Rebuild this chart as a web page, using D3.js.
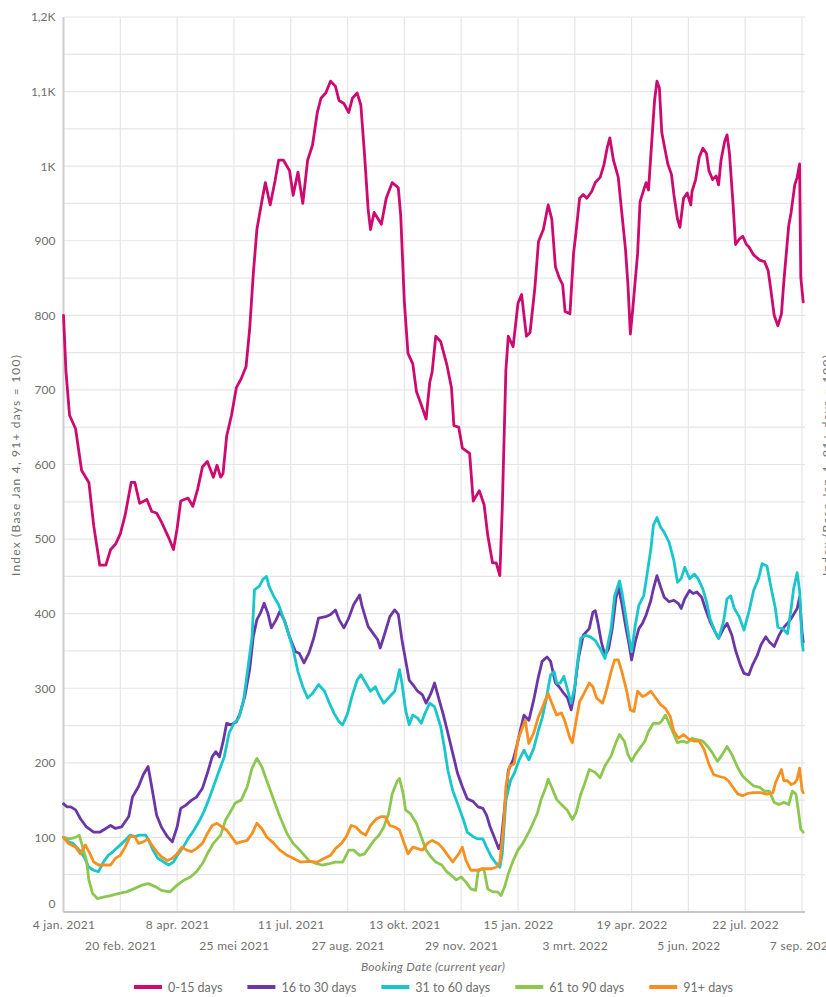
<!DOCTYPE html>
<html><head><meta charset="utf-8">
<script src="https://cdn.jsdelivr.net/npm/d3@7/dist/d3.min.js"></script>
<style>
body{margin:0;background:#fff}
text{font-family:Lato,"Open Sans",sans-serif}
</style>
</head><body>
<svg id="chart" width="826" height="997"></svg>
<script>
// ---------------- DATA ----------------
const startDate = "2021-01-04";           // day 0 of the series
const tickDays = [0,47,94,141,188,235,282,329,376,423,470,517,564,611];
const tickLabels = ["4 jan. 2021","20 feb. 2021","8 apr. 2021","25 mei 2021","11 jul. 2021","27 aug. 2021","13 okt. 2021","29 nov. 2021","15 jan. 2022","3 mrt. 2022","19 apr. 2022","5 jun. 2022","22 jul. 2022","7 sep. 2022"];
const yTicks = [0,100,200,300,400,500,600,700,800,900,1000,1100,1200];
const seriesNames = ["0-15 days","16 to 30 days","31 to 60 days","61 to 90 days","91+ days"];

// [day offset from startDate, index value]
const days0to15 = [[0,800],[2,726],[5,666],[10,648],[15,592],[21,576],[25,518],[30,465],[35,465],[39,486],[43,493],[47,507],[51,532],[56,576],[59,576],[63,548],[69,553],[73,537],[77,535],[81,523],[87,502],[91,486],[94,514],[97,551],[103,555],[107,544],[111,567],[115,597],[119,604],[124,583],[127,599],[130,583],[132,588],[135,638],[139,666],[143,703],[147,715],[151,731],[154,781],[157,855],[160,915],[164,952],[167,978],[171,948],[175,980],[178,1008],[182,1008],[187,994],[190,961],[194,992],[198,950],[202,1008],[206,1028],[210,1072],[213,1091],[217,1098],[221,1114],[225,1107],[228,1088],[232,1084],[236,1072],[239,1091],[243,1098],[246,1082],[249,1017],[252,943],[254,915],[257,938],[263,922],[267,957],[272,978],[277,971],[279,934],[282,818],[285,749],[289,735],[292,698],[296,680],[300,661],[303,710],[305,724],[308,772],[312,765],[317,735],[321,703],[323,652],[327,650],[330,622],[336,615],[339,551],[344,565],[348,546],[351,505],[355,468],[358,468],[361,451],[363,541],[366,726],[368,772],[372,758],[376,816],[379,828],[383,772],[386,777],[390,837],[393,899],[397,915],[401,948],[404,929],[407,865],[410,851],[413,841],[415,805],[419,802],[422,883],[424,911],[427,957],[430,962],[433,957],[437,966],[440,978],[444,985],[447,1001],[450,1026],[452,1038],[455,1008],[459,985],[461,952],[465,888],[467,841],[469,775],[471,809],[475,883],[477,952],[480,968],[482,978],[484,968],[487,1040],[489,1088],[491,1114],[493,1105],[495,1045],[497,1028],[500,1003],[503,989],[505,962],[508,929],[510,918],[513,957],[516,964],[519,948],[520,966],[523,982],[526,1012],[529,1024],[532,1017],[534,994],[537,982],[540,987],[542,975],[544,1008],[547,1033],[549,1042],[551,1017],[554,948],[556,895],[559,902],[562,906],[565,895],[567,892],[571,881],[576,874],[580,872],[583,860],[585,837],[588,800],[591,786],[594,802],[596,846],[600,920],[602,938],[605,975],[607,985],[609,1003],[610,851],[612,818]];

const days16to30 = [[0,145],[3,141],[6,141],[10,137],[14,125],[19,114],[25,107],[30,107],[35,112],[39,116],[43,112],[48,114],[54,128],[57,154],[62,168],[66,184],[70,195],[73,168],[77,130],[81,114],[86,101],[90,94],[94,114],[97,139],[101,143],[106,150],[110,154],[115,166],[119,186],[123,208],[126,215],[129,208],[132,228],[135,253],[139,251],[143,255],[146,266],[150,289],[154,325],[157,369],[160,392],[163,401],[166,414],[169,401],[172,381],[176,392],[179,403],[183,390],[187,369],[192,349],[195,347],[199,334],[203,347],[207,367],[211,394],[217,396],[221,399],[225,405],[228,392],[232,381],[236,394],[240,412],[245,425],[247,410],[252,383],[256,374],[260,365],[262,354],[265,369],[270,396],[274,405],[277,399],[280,365],[283,338],[286,311],[289,305],[293,296],[297,291],[300,280],[304,293],[307,307],[310,289],[314,266],[318,240],[322,213],[326,186],[330,168],[334,152],[339,148],[343,141],[347,139],[350,130],[353,114],[357,98],[360,85],[362,92],[365,141],[368,190],[372,204],[375,222],[378,244],[381,264],[385,257],[389,284],[393,316],[396,336],[400,342],[403,336],[407,307],[410,302],[414,293],[417,287],[420,271],[422,287],[426,340],[430,371],[435,380],[438,402],[440,404],[442,389],[445,362],[448,344],[451,353],[454,380],[457,420],[459,436],[462,413],[465,384],[468,358],[470,338],[473,362],[476,380],[479,387],[482,398],[486,418],[488,433],[491,451],[494,436],[497,422],[501,416],[505,418],[509,413],[511,407],[514,420],[518,431],[521,427],[524,429],[528,422],[531,407],[535,389],[539,376],[542,367],[546,380],[549,387],[553,371],[556,351],[560,331],[563,320],[567,318],[570,331],[574,344],[577,358],[581,369],[584,362],[588,356],[592,371],[595,380],[600,389],[603,396],[607,407],[609,422],[611,376],[612,362]];

const days31to60 = [[0,100],[4,94],[8,92],[13,83],[17,74],[21,60],[25,56],[29,54],[33,67],[37,76],[41,81],[47,90],[51,96],[55,103],[59,101],[63,103],[68,103],[70,98],[74,83],[78,72],[83,67],[87,63],[91,67],[95,78],[99,87],[103,98],[108,110],[112,121],[116,134],[120,150],[124,168],[128,186],[133,208],[137,240],[141,253],[145,260],[149,284],[152,320],[156,369],[158,432],[162,437],[165,446],[168,450],[170,437],[174,423],[178,412],[182,394],[186,374],[190,352],[194,322],[198,302],[202,287],[206,293],[211,305],[216,296],[220,280],[224,266],[228,255],[231,251],[235,266],[239,291],[243,311],[246,318],[250,307],[254,296],[258,302],[261,291],[265,280],[270,289],[274,296],[278,325],[280,307],[283,271],[286,251],[289,264],[293,260],[296,253],[299,266],[303,280],[307,275],[312,249],[315,222],[318,190],[322,163],[327,141],[331,123],[334,107],[339,101],[343,98],[347,98],[350,87],[354,74],[358,65],[361,60],[363,78],[366,150],[370,177],[373,186],[377,204],[381,217],[385,204],[389,219],[393,244],[396,260],[399,282],[403,318],[406,322],[408,307],[411,307],[414,316],[417,298],[420,280],[423,302],[426,344],[428,367],[432,371],[436,369],[440,364],[444,353],[448,340],[453,380],[456,424],[460,444],[462,429],[465,398],[468,367],[470,349],[473,384],[476,411],[480,424],[482,444],[486,487],[488,518],[491,529],[494,516],[497,509],[501,496],[505,471],[508,442],[511,447],[514,462],[518,447],[522,453],[525,447],[529,433],[532,416],[535,393],[539,376],[542,367],[546,389],[549,420],[552,424],[555,407],[559,396],[563,378],[567,402],[571,431],[575,447],[578,467],[582,464],[585,438],[589,407],[591,382],[595,380],[599,373],[602,407],[604,433],[607,455],[609,431],[611,362],[612,351]];

const days61to90 = [[0,100],[5,98],[10,100],[13,103],[15,92],[19,69],[21,43],[24,25],[28,18],[33,20],[39,22],[46,25],[52,27],[58,31],[65,36],[70,38],[76,34],[81,29],[88,27],[94,36],[100,43],[105,47],[110,54],[115,65],[119,78],[124,92],[130,103],[134,123],[138,134],[142,146],[147,150],[152,168],[156,193],[160,206],[164,195],[168,177],[174,150],[179,128],[185,105],[190,92],[196,82],[203,69],[209,65],[214,63],[220,65],[225,67],[231,67],[236,83],[240,83],[245,76],[249,78],[253,87],[257,96],[261,103],[265,114],[269,132],[272,159],[276,175],[278,179],[281,159],[283,137],[287,132],[292,119],[296,101],[300,83],[304,74],[308,67],[313,63],[317,54],[321,49],[325,43],[329,47],[333,40],[337,31],[341,29],[343,54],[346,58],[348,56],[351,31],[355,27],[359,27],[362,22],[365,34],[368,51],[372,69],[376,83],[380,92],[385,107],[387,114],[392,132],[395,150],[399,167],[401,178],[404,167],[408,151],[412,144],[417,136],[421,124],[424,133],[428,158],[432,176],[435,191],[440,187],[444,180],[448,196],[453,209],[457,227],[460,238],[464,229],[467,211],[470,202],[473,211],[477,220],[481,229],[484,242],[488,253],[493,253],[495,256],[498,264],[501,253],[505,238],[508,227],[512,229],[516,227],[520,233],[524,231],[529,229],[533,222],[537,213],[541,202],[545,211],[549,222],[553,211],[558,193],[562,182],[566,176],[571,169],[576,167],[580,162],[584,162],[588,147],[592,144],[596,147],[600,144],[603,162],[606,158],[608,136],[610,111],[612,107]];

const days91plus = [[0,100],[4,92],[10,87],[14,78],[18,90],[22,78],[25,67],[29,63],[33,63],[39,63],[43,72],[47,76],[51,87],[55,101],[59,101],[62,92],[66,94],[70,98],[73,90],[77,81],[81,74],[86,69],[90,72],[94,78],[98,87],[102,83],[106,81],[110,85],[115,92],[119,105],[123,116],[127,119],[131,114],[135,110],[139,101],[143,92],[147,94],[152,96],[156,105],[160,119],[164,112],[168,101],[174,92],[179,83],[185,76],[190,72],[196,67],[203,68],[210,67],[216,72],[221,76],[225,85],[230,92],[234,101],[238,116],[242,114],[246,107],[250,103],[254,116],[259,125],[263,128],[266,128],[270,116],[274,114],[278,110],[281,96],[285,78],[289,87],[293,85],[297,83],[301,92],[305,96],[310,92],[314,85],[318,76],[322,67],[327,78],[330,87],[333,69],[337,56],[342,56],[346,58],[350,58],[354,58],[358,60],[361,67],[364,114],[366,168],[369,195],[373,199],[376,231],[379,244],[382,257],[385,226],[389,240],[393,262],[396,273],[398,282],[401,293],[404,280],[408,264],[412,267],[415,255],[419,233],[421,227],[424,255],[427,282],[430,291],[435,307],[438,302],[441,287],[446,280],[449,296],[453,322],[456,338],[459,338],[462,322],[466,296],[469,271],[472,269],[475,296],[479,289],[482,291],[486,296],[490,287],[494,278],[498,273],[502,262],[505,242],[509,233],[513,238],[518,231],[522,229],[526,229],[530,218],[534,198],[538,184],[542,182],[547,180],[550,176],[554,167],[558,158],[562,156],[566,159],[571,160],[577,160],[582,158],[587,160],[589,173],[592,184],[594,191],[596,176],[599,176],[602,171],[605,173],[607,178],[609,193],[611,164],[612,160]];

const seriesData = [days0to15, days16to30, days31to60, days61to90, days91plus];
const seriesColors = ["#cc0a6f","#6b37a6","#19c6cc","#8cc850","#f7901e"];

// ---------------- CHART ----------------
const svg = d3.select("#chart");
const plot = {left:63.5, right:805, top:17, bottom:912};
const day0 = d3.timeParse("%Y-%m-%d")(startDate);
const toDate = d => d3.timeDay.offset(day0, d);

const x = d3.scaleTime().domain([toDate(0), toDate(611)]).range([plot.left, 802]);
const y = d3.scaleLinear().domain([0, 1200]).range([plot.bottom, plot.top]);

const gridColor = "#e6e6e6";
const textColor = "#707070";

// horizontal grid (every 50)
svg.append("g").selectAll("line").data(d3.range(0, 1201, 50)).join("line")
  .attr("x1", plot.left).attr("x2", plot.right)
  .attr("y1", d => y(d)).attr("y2", d => y(d))
  .attr("stroke", gridColor).attr("stroke-width", 1.2);

// vertical grid at ticks
svg.append("g").selectAll("line").data(tickDays).join("line")
  .attr("x1", d => x(toDate(d))).attr("x2", d => x(toDate(d)))
  .attr("y1", plot.top).attr("y2", plot.bottom)
  .attr("stroke", gridColor).attr("stroke-width", 1.2);

// y axis
const fmtY = v => v >= 1000 ? String(v/1000).replace(".", ",") + "K" : String(v);
const yAxis = svg.append("g").attr("transform", `translate(${plot.left},0)`)
  .call(d3.axisLeft(y).tickValues(yTicks).tickSize(0).tickPadding(8).tickFormat(fmtY));
yAxis.select(".domain").remove();
yAxis.selectAll("text").attr("fill", textColor).style("font-size", "12px")
  .attr("dy", d => d === 0 ? "-0.4em" : "0.32em");

// axis lines
svg.append("line").attr("x1", plot.left).attr("x2", plot.left)
  .attr("y1", plot.top).attr("y2", plot.bottom).attr("stroke", "#d0d0d0").attr("stroke-width", 2);
svg.append("line").attr("x1", plot.left).attr("x2", plot.right)
  .attr("y1", plot.bottom).attr("y2", plot.bottom).attr("stroke", "#b8b8b8").attr("stroke-width", 1.5);

// x axis
const xAxis = svg.append("g").attr("transform", `translate(0,${plot.bottom})`)
  .call(d3.axisBottom(x).tickValues(tickDays.map(toDate)).tickSize(0)
    .tickFormat((d, i) => tickLabels[i]));
xAxis.select(".domain").remove();
xAxis.selectAll("text").attr("fill", textColor).style("font-size", "12px")
  .style("letter-spacing", "0.3px")
  .attr("y", (d, i) => i % 2 === 0 ? 8 : 29).attr("dy", "0.71em");

// lines
const line = d3.line().x(d => x(toDate(d[0]))).y(d => y(d[1]));
svg.append("g").selectAll("path").data(seriesData).join("path")
  .attr("d", line).attr("fill", "none")
  .attr("stroke", (d, i) => seriesColors[i])
  .attr("stroke-width", 2.8).attr("stroke-linejoin", "round").attr("stroke-linecap", "round");

// axis titles
const yTitle = "Index (Base Jan 4, 91+ days = 100)";
svg.append("text").attr("transform", "translate(20,465) rotate(-90)")
  .attr("text-anchor", "middle").attr("fill", textColor).style("font-size", "12px")
  .style("letter-spacing", "1.2px").text(yTitle);
svg.append("text").attr("transform", "translate(831,465) rotate(-90)")
  .attr("text-anchor", "middle").attr("fill", textColor).style("font-size", "12px")
  .style("letter-spacing", "1.2px").text(yTitle);
svg.append("text").attr("x", 433).attr("y", 971).attr("text-anchor", "middle")
  .attr("fill", textColor).style("font-size", "12px").style("font-style", "italic")
  .style("letter-spacing", "0.3px").text("Booking Date (current year)");

// legend
const legend = svg.append("g");
const items = legend.selectAll("g").data(seriesNames).join("g");
items.append("line").attr("x1", 0).attr("x2", 28).attr("y1", 0).attr("y2", 0)
  .attr("stroke", (d, i) => seriesColors[i]).attr("stroke-width", 4);
items.append("text").attr("x", 34).attr("y", 4.5).attr("fill", textColor)
  .style("font-size", "12.5px").text(d => d);
let cx = 0;
const gap = 25;
items.each(function() {
  const w = this.getBBox().width;
  d3.select(this).attr("transform", `translate(${cx},987)`);
  cx += w + gap;
});
const total = cx - gap;
legend.attr("transform", `translate(${433.5 - total/2},0)`);
</script>
</body></html>
